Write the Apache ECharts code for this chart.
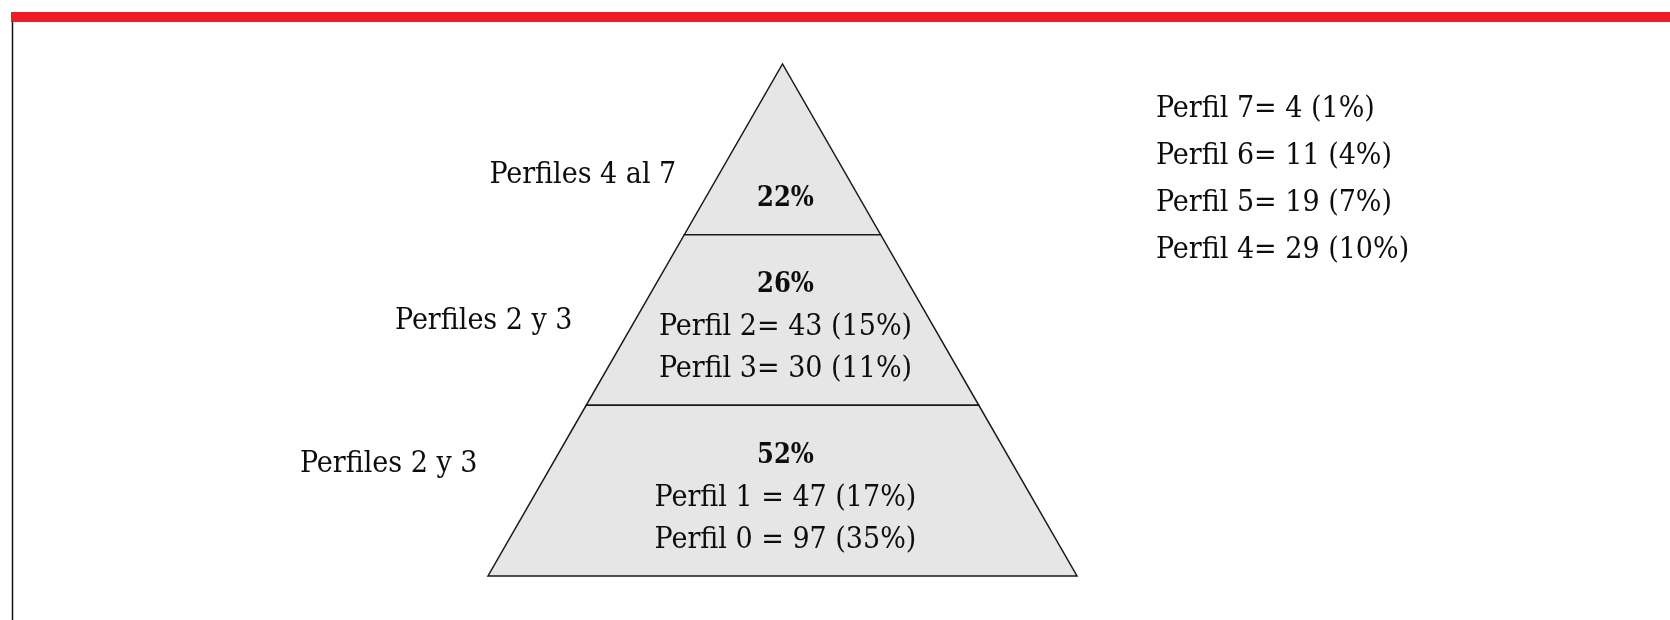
<!DOCTYPE html>
<html>
<head>
<meta charset="utf-8">
<script src="https://cdn.jsdelivr.net/npm/echarts@6/dist/echarts.min.js"></script>
<style>
html,body{margin:0;padding:0;background:#fff;}
#chart{width:1670px;height:620px;}
</style>
</head>
<body>
<div id="chart"></div>
<script>
// ---- data (top band first) ----
const groupLabels = ['Perfiles 4 al 7', 'Perfiles 2 y 3', 'Perfiles 2 y 3'];
const groupShares = ['22%', '26%', '52%'];
const groupDetails = [
  [],
  ['Perfil 2= 43 (15%)', 'Perfil 3= 30 (11%)'],
  ['Perfil 1 = 47 (17%)', 'Perfil 0 = 97 (35%)']
];
const sideList = ['Perfil 7= 4 (1%)', 'Perfil 6= 11 (4%)', 'Perfil 5= 19 (7%)', 'Perfil 4= 29 (10%)'];

// ---- styles ----
const FONT = '"DejaVu Serif Condensed", "DejaVu Serif", serif';
const FS = 30;
const FSB = 27;
const LINE = 42;
// left label placement: [gap to pyramid edge (px), height above band bottom (px)]
const leftLabelPlace = [[42, 59], [62, 84], [75, 112]];

const nBands = groupLabels.length;
const bandData = groupLabels.map((name, i) => [nBands - 1 - i, i]); // [level from bottom, row index]

const chart = echarts.init(document.getElementById('chart'));

function halfWidth(y) { return (nBands - y) / nBands; }

function renderItem(params, api) {
  const lvl = api.value(0);
  const row = api.value(1);
  const y0 = lvl, y1 = lvl + 1;
  const pts = [
    api.coord([-halfWidth(y0), y0]),
    api.coord([halfWidth(y0), y0]),
    api.coord([halfWidth(y1), y1]),
    api.coord([-halfWidth(y1), y1])
  ];
  const center = api.coord([0, y0]);
  const bandPx = api.coord([0, y0])[1] - api.coord([0, y1])[1];
  const children = [{
    type: 'polygon',
    shape: { points: pts },
    style: { fill: '#e6e6e6', stroke: '#1a1a1a', lineWidth: 1.5 }
  }];
  const lines = [groupShares[row]].concat(groupDetails[row]);
  const n = lines.length;
  lines.forEach((t, k) => {
    children.push({
      type: 'text',
      x: center[0] + 3,
      y: center[1] - 36 - (n - 1 - k) * LINE,
      style: {
        text: t, fill: '#0d0d0d',
        font: (k === 0 ? 'bold ' + FSB : FS) + 'px ' + FONT,
        align: 'center', verticalAlign: 'middle'
      }
    });
  });
  // side label on the left of the band
  const pl = leftLabelPlace[row];
  const edgeY = y0 + pl[1] / bandPx;
  const edge = api.coord([-halfWidth(edgeY), edgeY]);
  children.push({
    type: 'text',
    x: edge[0] - pl[0],
    y: center[1] - pl[1],
    style: {
      text: groupLabels[row], fill: '#0d0d0d', font: FS + 'px ' + FONT,
      align: 'right', verticalAlign: 'middle'
    }
  });
  return { type: 'group', children: children };
}

const option = {
  backgroundColor: '#fff',
  animation: false,
  grid: { left: 488, right: 593, top: 64, bottom: 44 },
  xAxis: { type: 'value', min: -1, max: 1, show: false },
  yAxis: { type: 'value', min: 0, max: nBands, show: false },
  graphic: [
    { type: 'rect', left: 11, top: 12, shape: { width: 1659, height: 10 }, style: { fill: '#ee1c25' } },
    { type: 'line', shape: { x1: 12.5, y1: 22, x2: 12.5, y2: 620 }, style: { stroke: '#111', lineWidth: 1.5 } },
    {
      type: 'text', left: 1156, top: 86,
      style: {
        text: sideList.join('\n'), fill: '#0d0d0d', font: FS + 'px ' + FONT,
        lineHeight: 47
      }
    }
  ],
  series: [{
    type: 'custom',
    renderItem: renderItem,
    data: bandData,
    silent: true
  }]
};
chart.setOption(option);
</script>
</body>
</html>
